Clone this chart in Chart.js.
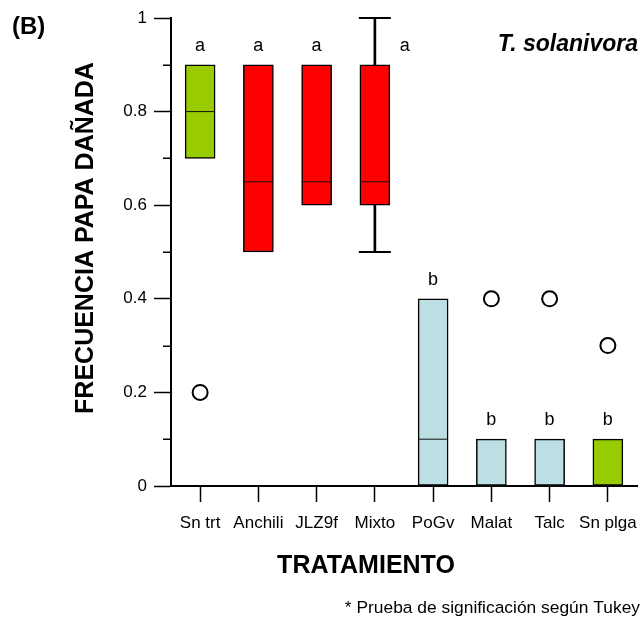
<!DOCTYPE html>
<html>
<head>
<meta charset="utf-8">
<script src="https://cdn.jsdelivr.net/npm/chart.js@4.4.1/dist/chart.umd.min.js"></script>
<style>
  html, body { margin: 0; padding: 0; background: #fff; }
  #wrap { position: relative; width: 644px; height: 630px; }
</style>
</head>
<body>
<div id="wrap"><canvas id="c" width="644" height="630"></canvas></div>
<script>
// Treatments and box-plot summaries (frequency of damaged potatoes)
const treatments  = ['Sn trt', 'Anchili', 'JLZ9f', 'Mixto', 'PoGv', 'Malat', 'Talc', 'Sn plga'];
const q1          = [0.7, 0.5, 0.6, 0.6, 0.0, 0.0, 0.0, 0.0];
const medians     = [0.8, 0.65, 0.65, 0.65, 0.1, 0.0, 0.0, 0.0];
const q3          = [0.9, 0.9, 0.9, 0.9, 0.4, 0.1, 0.1, 0.1];
const whiskerLow  = [null, null, null, 0.5, null, null, null, null];
const whiskerHigh = [null, null, null, 1.0, null, null, null, null];
const outliers    = [0.2, null, null, null, null, 0.4, 0.4, 0.3];
const tukeyGroups = ['a', 'a', 'a', 'a', 'b', 'b', 'b', 'b'];
const yTicks      = [0, 0.2, 0.4, 0.6, 0.8, 1];
const yTickLabels = ['0', '0.2', '0.4', '0.6', '0.8', '1'];
const yMinorTicks = [0.1, 0.3, 0.5, 0.7, 0.9];

// Fill colours by treatment type
const GREEN = '#99CC00', RED = '#FF0000', BLUE = '#BCDFE3';
const boxColors = [GREEN, RED, RED, RED, BLUE, BLUE, BLUE, GREEN];

// Plot frame inside the 644x630 canvas
const FRAME = { left: 171, right: 637, top: 18, bottom: 486 };

const FONT = '"Liberation Sans", Arial, Helvetica, sans-serif';
Chart.defaults.font.family = FONT;
Chart.defaults.color = '#000';

// Minor ticks, Tukey letters and free-standing titles
const annotations = {
  id: 'annotations',
  afterDraw(chart) {
    const { ctx, scales: { x, y } } = chart;
    ctx.save();

    // minor y ticks
    ctx.strokeStyle = '#000';
    ctx.lineWidth = 1.5;
    const axisX = chart.chartArea.left;
    yMinorTicks.forEach(v => {
      const py = Math.round(y.getPixelForValue(v)) + 0.25;
      ctx.beginPath();
      ctx.moveTo(axisX - 8, py);
      ctx.lineTo(axisX, py);
      ctx.stroke();
    });

    // Tukey significance letters above each box
    ctx.fillStyle = '#000';
    ctx.font = '18px ' + FONT;
    ctx.textAlign = 'center';
    ctx.textBaseline = 'alphabetic';
    tukeyGroups.forEach((g, i) => {
      let px = x.getPixelForValue(i);
      if (whiskerHigh[i] != null && whiskerHigh[i] > q3[i]) px += 30;
      const py = y.getPixelForValue(q3[i]) - 14;
      ctx.fillText(g, px, py);
    });

    // panel tag
    ctx.textAlign = 'left';
    ctx.font = 'bold 24px ' + FONT;
    ctx.fillText('(B)', 12, 34);

    // species name
    ctx.textAlign = 'right';
    ctx.font = 'italic bold 23px ' + FONT;
    ctx.fillText('T. solanivora', 638, 51);

    // axis titles
    ctx.textAlign = 'center';
    ctx.font = 'bold 25px ' + FONT;
    ctx.fillText('TRATAMIENTO', 366, 573);

    ctx.save();
    ctx.translate(93, 238);
    ctx.rotate(-Math.PI / 2);
    ctx.fillText('FRECUENCIA PAPA DAÑADA', 0, 0);
    ctx.restore();

    // footnote
    ctx.textAlign = 'right';
    ctx.font = '17.4px ' + FONT;
    ctx.fillText('* Prueba de significación según Tukey', 640, 613);

    ctx.restore();
  }
};

const pointSet = (data, extra) => Object.assign({
  type: 'line',
  data,
  showLine: false,
  clip: false,
  pointBorderColor: '#000'
}, extra);

new Chart(document.getElementById('c'), {
  type: 'bar',
  data: {
    labels: treatments,
    datasets: [
      {
        // whisker stems
        type: 'bar',
        data: treatments.map((_, i) => whiskerLow[i] == null ? null : [whiskerLow[i], whiskerHigh[i]]),
        backgroundColor: '#000',
        borderWidth: 0,
        barThickness: 2,
        grouped: false,
        order: 5
      },
      {
        // interquartile boxes
        type: 'bar',
        data: treatments.map((_, i) => [q1[i], q3[i]]),
        backgroundColor: boxColors,
        borderColor: '#000',
        borderWidth: 1.5,
        borderSkipped: false,
        barThickness: 30,
        grouped: false,
        order: 4
      },
      // medians
      pointSet(medians, { pointStyle: 'line', pointRadius: 15, pointBorderWidth: 1, pointBorderColor: '#111', order: 3 }),
      // whisker caps
      pointSet(whiskerHigh, { pointStyle: 'line', pointRadius: 16, pointBorderWidth: 2, order: 2 }),
      pointSet(whiskerLow, { pointStyle: 'line', pointRadius: 16, pointBorderWidth: 2, order: 2 }),
      // outliers
      pointSet(outliers, { pointStyle: 'circle', pointRadius: 7.5, pointBorderWidth: 2, pointBackgroundColor: '#fff', order: 1 })
    ]
  },
  options: {
    responsive: false,
    devicePixelRatio: 1,
    animation: false,
    events: [],
    layout: {
      autoPadding: false,
      padding: { top: FRAME.top, right: 644 - FRAME.right, left: 0, bottom: 0 }
    },
    plugins: {
      legend: { display: false },
      tooltip: { enabled: false }
    },
    scales: {
      x: {
        offset: true,
        grid: {
          offset: false,
          drawOnChartArea: false,
          tickLength: 16,
          tickWidth: 1.5,
          tickColor: '#000'
        },
        border: { display: true, color: '#000', width: 2 },
        ticks: {
          font: { size: 17 },
          color: '#000',
          padding: 11,
          maxRotation: 0,
          autoSkip: false
        },
        afterFit(s) {
          s.height = 630 - FRAME.bottom;
          s.paddingLeft = 0;
          s.paddingRight = 0;
        }
      },
      y: {
        min: 0,
        max: 1,
        afterBuildTicks(s) {
          s.ticks = yTicks.map(v => ({ value: v }));
        },
        grid: {
          drawOnChartArea: false,
          tickLength: 17,
          tickWidth: 1.5,
          tickColor: '#000'
        },
        border: { display: true, color: '#000', width: 2 },
        ticks: {
          font: { size: 17 },
          color: '#000',
          padding: 7,
          callback: (v, i) => yTickLabels[i]
        },
        afterFit(s) {
          s.width = FRAME.left;
          s.paddingTop = 0;
          s.paddingBottom = 0;
        }
      }
    }
  },
  plugins: [annotations]
});
</script>
</body>
</html>
